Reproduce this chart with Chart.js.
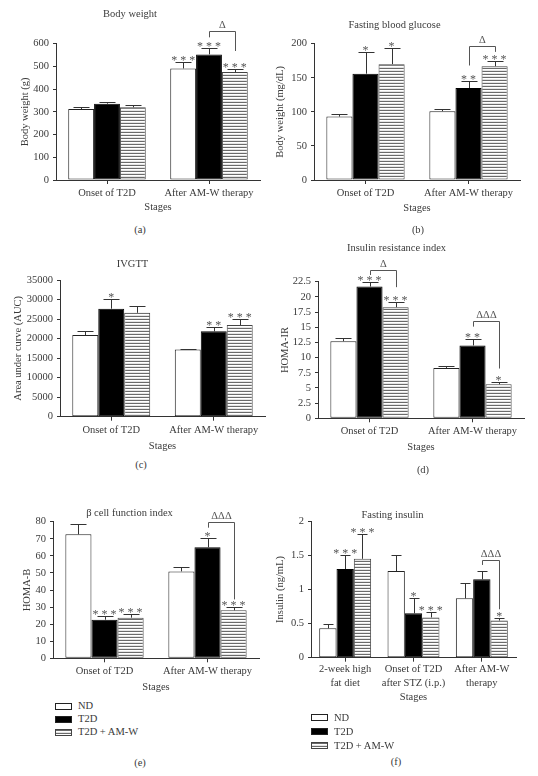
<!DOCTYPE html>
<html>
<head>
<meta charset="utf-8">
<script src="https://cdn.jsdelivr.net/npm/chart.js@4.4.1/dist/chart.umd.min.js"></script>
<style>
  html, body { margin: 0; padding: 0; background: #fff; width: 538px; height: 776px; overflow: hidden; }
  body { position: relative; font-family: "Liberation Serif", "DejaVu Serif", serif; color: #3a3a3a; }
  canvas { position: absolute; }
  .tag { position: absolute; font-size: 10.5px; line-height: 12px; transform: translate(-50%, -50%); white-space: nowrap; }
  .key { position: absolute; font-size: 10.5px; line-height: 12px; white-space: nowrap; }
  .sw { position: absolute; box-sizing: border-box; width: 17px; height: 7px; border: 1px solid #222; }
</style>
</head>
<body>
<script>
const stages = ['Onset of T2D', 'After AM-W therapy'];
const stagesInsulin = [['2-week high', 'fat diet'], ['Onset of T2D', 'after STZ (i.p.)'], ['After AM-W', 'therapy']];
const groups = ['ND', 'T2D', 'T2D + AM-W'];

// (a) body weight, g  (mean, sem, significance)
const weightND = [312, 491], weightNDSem = [10, 27], weightNDStars = ['', '***'];
const weightT2D = [336, 553], weightT2DSem = [8, 26], weightT2DStars = ['', '***'];
const weightAMW = [320, 475], weightAMWSem = [8, 13], weightAMWStars = ['', '***'];

// (b) fasting blood glucose, mg/dL
const glucoseND = [93, 101], glucoseNDSem = [4, 3], glucoseNDStars = ['', ''];
const glucoseT2D = [156, 135], glucoseT2DSem = [32, 10], glucoseT2DStars = ['*', '**'];
const glucoseAMW = [170, 167], glucoseAMWSem = [23, 7], glucoseAMWStars = ['*', '***'];

// (c) IVGTT, AUC
const aucND = [20900, 17200], aucNDSem = [1100, 200], aucNDStars = ['', ''];
const aucT2D = [27650, 21850], aucT2DSem = [2500, 1030], aucT2DStars = ['*', '**'];
const aucAMW = [26600, 23480], aucAMWSem = [1700, 1500], aucAMWStars = ['', '***'];

// (d) HOMA-IR
const homaIrND = [12.7, 8.3], homaIrNDSem = [0.45, 0.33], homaIrNDStars = ['', ''];
const homaIrT2D = [21.7, 12.0], homaIrT2DSem = [0.8, 1.05], homaIrT2DStars = ['***', '**'];
const homaIrAMW = [18.3, 5.6], homaIrAMWSem = [0.9, 0.33], homaIrAMWStars = ['***', '*'];

// (e) HOMA-B
const homaBND = [72.6, 50.9], homaBNDSem = [5.8, 2.4], homaBNDStars = ['', ''];
const homaBT2D = [22.6, 65], homaBT2DSem = [2.0, 5.2], homaBT2DStars = ['***', '*'];
const homaBAMW = [23.8, 28.1], homaBAMWSem = [2.2, 1.9], homaBAMWStars = ['***', '***'];

// (f) fasting insulin, ng/mL
const insulinND = [0.43, 1.27, 0.87], insulinNDSem = [0.07, 0.24, 0.23], insulinNDStars = ['', '', ''];
const insulinT2D = [1.30, 0.65, 1.15], insulinT2DSem = [0.20, 0.23, 0.12], insulinT2DStars = ['***', '*', ''];
const insulinAMW = [1.45, 0.59, 0.545], insulinAMWSem = [0.36, 0.08, 0.04], insulinAMWStars = ['***', '***', '*'];

// T2D vs T2D + AM-W brackets: group, bracket top, left end, right end (axis units)
const weightBrackets = [{ group: 1, top: 657, left: 628, right: 568, text: 'Δ' }];
const glucoseBrackets = [{ group: 1, top: 197, left: 168, right: 188, text: 'Δ' }];
const homaIrBrackets = [
  { group: 0, top: 24.4, left: 23.6, right: 21.6, text: 'Δ' },
  { group: 1, top: 16.1, left: 15.1, right: 8.2, text: 'ΔΔΔ' }
];
const homaBBrackets = [{ group: 1, top: 79.7, left: 76.5, right: 34.5, text: 'ΔΔΔ' }];
const insulinBrackets = [{ group: 2, top: 1.435, left: 1.36, right: 0.71, text: 'ΔΔΔ' }];

const ink = '#3a3a3a';
const serif = '"Liberation Serif", "DejaVu Serif", serif';
const font = { family: serif, size: 10.5, lineHeight: 1.2, weight: 'normal' };

// horizontal line hatch for the treated group
function hatch() {
  const c = document.createElement('canvas');
  c.width = 4; c.height = 3;
  const g = c.getContext('2d');
  g.fillStyle = '#fff'; g.fillRect(0, 0, 4, 3);
  g.fillStyle = '#6a6a6a'; g.fillRect(0, 0, 4, 1);
  g.fillStyle = '#e4e4e4'; g.fillRect(0, 2, 4, 1);
  return g.createPattern(c, 'repeat');
}

// error bars (upper only), asterisks and delta brackets
const marks = {
  id: 'marks',
  afterDatasetsDraw(chart, args, opts) {
    const ctx = chart.ctx, y = chart.scales.y;
    ctx.save();
    ctx.lineWidth = 1;
    chart.data.datasets.forEach((ds, i) => {
      chart.getDatasetMeta(i).data.forEach((bar, j) => {
        const top = Math.round(y.getPixelForValue(ds.data[j] + ds.sem[j])) + 0.5;
        const x = Math.round(bar.x) + 0.5;
        const cap = Math.round(bar.width * 0.3);
        ctx.strokeStyle = '#333';
        ctx.beginPath();
        ctx.moveTo(x, bar.y);
        ctx.lineTo(x, top);
        ctx.moveTo(x - cap, top);
        ctx.lineTo(x + cap, top);
        ctx.stroke();
        if (ds.stars[j]) {
          ctx.fillStyle = '#555';
          ctx.font = '12px ' + serif;
          ctx.textAlign = 'center';
          ctx.textBaseline = 'alphabetic';
          ctx.fillText(ds.stars[j].split('').join(' '), bar.x, top + 1);
        }
      });
    });
    (opts.brackets || []).forEach(b => {
      const x1 = Math.round(chart.getDatasetMeta(1).data[b.group].x) + 0.5;
      const x2 = Math.round(chart.getDatasetMeta(2).data[b.group].x) + 0.5;
      const yt = Math.round(y.getPixelForValue(b.top)) + 0.5;
      ctx.strokeStyle = '#555';
      ctx.beginPath();
      ctx.moveTo(x1, y.getPixelForValue(b.left));
      ctx.lineTo(x1, yt);
      ctx.lineTo(x2, yt);
      ctx.lineTo(x2, y.getPixelForValue(b.right));
      ctx.stroke();
      ctx.fillStyle = '#555';
      ctx.font = '10.5px ' + serif;
      ctx.textAlign = 'center';
      ctx.textBaseline = 'middle';
      ctx.fillText(b.text, (x1 + x2) / 2, yt - 6);
    });
    ctx.restore();
  }
};

function buildPanel(p) {
  const lh = font.size * font.lineHeight;
  const center = (p.area.l + p.area.r) / 2;
  const cx = p.x, cy = p.titleY - 8;
  const W = Math.round(2 * (center - cx));
  const H = Math.round(p.stagesY + lh / 2 - cy);
  const canvas = document.createElement('canvas');
  canvas.width = W; canvas.height = H;
  canvas.style.left = cx + 'px';
  canvas.style.top = cy + 'px';
  document.body.appendChild(canvas);
  const titleTop = 8 - lh / 2;
  const titleBottom = Math.max(0, p.area.t - cy - titleTop - lh);
  const bar = (label, data, sem, stars, fill, border) =>
    ({ label, data, sem, stars, backgroundColor: fill, borderColor: border });

  new Chart(canvas, {
    type: 'bar',
    data: {
      labels: p.labels,
      datasets: [
        bar(groups[0], p.series[0], p.sems[0], p.stars[0], '#fff', '#222'),
        bar(groups[1], p.series[1], p.sems[1], p.stars[1], '#000', '#000'),
        bar(groups[2], p.series[2], p.sems[2], p.stars[2], hatch(), '#444')
      ]
    },
    options: {
      responsive: false,
      animation: false,
      events: [],
      layout: { padding: { left: 0, top: 0, bottom: 0, right: W - (p.area.r - cx) } },
      datasets: { bar: { categoryPercentage: 0.76, barPercentage: 1, borderWidth: 1, borderSkipped: false } },
      plugins: {
        legend: { display: false },
        tooltip: { enabled: false },
        title: { display: true, text: p.title, color: ink, font, padding: { top: titleTop, bottom: titleBottom } },
        marks: { brackets: p.brackets }
      },
      scales: {
        x: {
          grid: { offset: false, drawOnChartArea: false, tickLength: 4, color: '#333' },
          border: { color: '#333' },
          ticks: { color: ink, font: p.xFont || font, padding: p.xPad, maxRotation: 0, autoSkip: false },
          title: { display: true, text: 'Stages', color: ink, font, padding: 0 },
          afterFit: s => { s.height = H - (p.area.b - cy); }
        },
        y: {
          min: 0,
          max: p.max,
          grid: { drawOnChartArea: false, tickLength: 3, color: '#333' },
          border: { color: '#333' },
          ticks: { stepSize: p.step, autoSkip: false, color: ink, font, padding: 4, callback: v => String(+v.toFixed(2)) },
          title: { display: true, text: p.yTitle, color: ink, font, padding: { top: p.yTitleX - cx - lh / 2, bottom: 0 } },
          afterFit: s => { s.width = p.area.l - cx; }
        }
      }
    },
    plugins: [marks]
  });

  const tag = document.createElement('div');
  tag.className = 'tag';
  tag.textContent = p.tag;
  tag.style.left = p.tagAt[0] + 'px';
  tag.style.top = p.tagAt[1] + 'px';
  document.body.appendChild(tag);

  if (p.key) {
    const fills = ['#fff', '#000', 'repeating-linear-gradient(to bottom, #6a6a6a 0 1px, #fff 1px 2px, #e4e4e4 2px 3px)'];
    groups.forEach((g, i) => {
      const yc = p.key.rows[i];
      const sw = document.createElement('div');
      sw.className = 'sw';
      sw.style.left = p.key.x + 'px';
      sw.style.top = (yc - 3.5) + 'px';
      sw.style.background = fills[i];
      if (i === 2) sw.style.borderColor = '#444';
      document.body.appendChild(sw);
      const t = document.createElement('div');
      t.className = 'key';
      t.textContent = g;
      t.style.left = (p.key.x + 23) + 'px';
      t.style.top = (yc - 6) + 'px';
      document.body.appendChild(t);
    });
  }
}

const panels = [
  { title: 'Body weight', yTitle: 'Body weight (g)', labels: stages, max: 600, step: 100,
    series: [weightND, weightT2D, weightAMW], sems: [weightNDSem, weightT2DSem, weightAMWSem],
    stars: [weightNDStars, weightT2DStars, weightAMWStars], brackets: weightBrackets,
    x: 0, area: { l: 56, t: 43.7, r: 260, b: 180 }, titleY: 14, stagesY: 208, yTitleX: 25, xPad: 3,
    tag: '(a)', tagAt: [140, 230] },
  { title: 'Fasting blood glucose', yTitle: 'Body weight (mg/dL)', labels: stages, max: 200, step: 50,
    series: [glucoseND, glucoseT2D, glucoseAMW], sems: [glucoseNDSem, glucoseT2DSem, glucoseAMWSem],
    stars: [glucoseNDStars, glucoseT2DStars, glucoseAMWStars], brackets: glucoseBrackets,
    x: 269, area: { l: 314, t: 43.7, r: 520, b: 180 }, titleY: 25, stagesY: 209, yTitleX: 280, xPad: 3,
    tag: '(b)', tagAt: [418, 230] },
  { title: 'IVGTT', yTitle: 'Area under curve (AUC)', labels: stages, max: 35000, step: 5000,
    series: [aucND, aucT2D, aucAMW], sems: [aucNDSem, aucT2DSem, aucAMWSem],
    stars: [aucNDStars, aucT2DStars, aucAMWStars], brackets: [],
    x: 0, area: { l: 60, t: 280, r: 265, b: 416.7 }, titleY: 264, stagesY: 447, yTitleX: 18, xPad: 3,
    tag: '(c)', tagAt: [141, 465] },
  { title: 'Insulin resistance index', yTitle: 'HOMA-IR', labels: stages, max: 22.5, step: 2.5,
    series: [homaIrND, homaIrT2D, homaIrAMW], sems: [homaIrNDSem, homaIrT2DSem, homaIrAMWSem],
    stars: [homaIrNDStars, homaIrT2DStars, homaIrAMWStars], brackets: homaIrBrackets,
    x: 269, area: { l: 318, t: 281.7, r: 524, b: 418.3 }, titleY: 248, stagesY: 448, yTitleX: 285, xPad: 3,
    tag: '(d)', tagAt: [423, 470] },
  { title: 'β cell function index', yTitle: 'HOMA-B', labels: stages, max: 80, step: 10,
    series: [homaBND, homaBT2D, homaBAMW], sems: [homaBNDSem, homaBT2DSem, homaBAMWSem],
    stars: [homaBNDStars, homaBT2DStars, homaBAMWStars], brackets: homaBBrackets,
    x: 0, area: { l: 53, t: 521.7, r: 259, b: 658.3 }, titleY: 513, stagesY: 688, yTitleX: 27, xPad: 3,
    tag: '(e)', tagAt: [140, 763], key: { x: 55, rows: [706, 719, 732] } },
  { title: 'Fasting insulin', yTitle: 'Insulin (ng/mL)', labels: stagesInsulin, max: 2, step: 0.5,
    series: [insulinND, insulinT2D, insulinAMW], sems: [insulinNDSem, insulinT2DSem, insulinAMWSem],
    stars: [insulinNDStars, insulinT2DStars, insulinAMWStars], brackets: insulinBrackets,
    x: 269, area: { l: 311, t: 520.7, r: 516, b: 657.7 }, titleY: 515, stagesY: 698, yTitleX: 280,
    xFont: { family: serif, size: 10.5, lineHeight: 1.28 }, xPad: 1,
    tag: '(f)', tagAt: [396, 762], key: { x: 311, rows: [717.5, 731.5, 745.5] } }
];

panels.forEach(buildPanel);
</script>
</body>
</html>
